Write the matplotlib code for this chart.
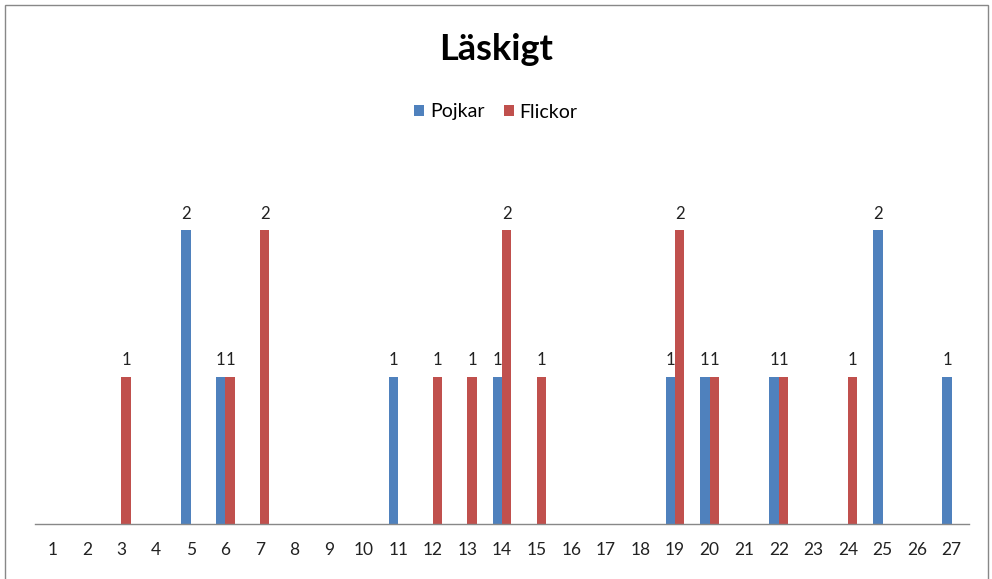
import matplotlib
matplotlib.use("Agg")
import matplotlib.pyplot as plt
import numpy as np
from matplotlib.patches import Rectangle

plt.rcParams['font.family'] = ['Lato', 'DejaVu Sans']

categories = [str(i) for i in range(1, 28)]
pojkar = [0, 0, 0, 0, 2, 1, 0, 0, 0, 0, 1, 0, 0, 1, 0, 0, 0, 0, 1, 1, 0, 1, 0, 0, 2, 0, 1]
flickor = [0, 0, 1, 0, 0, 1, 2, 0, 0, 0, 0, 1, 1, 2, 1, 0, 0, 0, 2, 1, 0, 1, 0, 1, 0, 0, 0]

blue = '#4F81BD'
red = '#C0504D'

fig = plt.figure(figsize=(9.92, 5.79), dpi=100)
ax = fig.add_axes([35/992, 1 - 524/579, (969-35)/992, (524-157)/579])

x = np.arange(len(categories))
w = 0.27
bp = ax.bar(x - w/2, pojkar, w, color=blue, label='Pojkar')
bf = ax.bar(x + w/2, flickor, w, color=red, label='Flickor')

for xi, v in zip(x, pojkar):
    if v:
        ax.text(xi - w/2, v + 0.06, str(v), ha='center', va='bottom', fontsize=12, color='#222222')
for xi, v in zip(x, flickor):
    if v:
        ax.text(xi + w/2, v + 0.06, str(v), ha='center', va='bottom', fontsize=12, color='#222222')

ax.set_xlim(-0.5, len(categories) - 0.5)
ax.set_ylim(0, 2.5)
ax.set_xticks(x)
ax.set_xticklabels(categories, fontsize=12.5, color='#222222')
ax.tick_params(axis='x', length=0, pad=13)
ax.set_yticks([])
for s in ['top', 'right', 'left']:
    ax.spines[s].set_visible(False)
ax.spines['bottom'].set_color('#888888')
ax.spines['bottom'].set_linewidth(1)

fig.text(0.5, 1 - 50/579, 'Läskigt', ha='center', va='center', fontsize=26, fontweight='bold', color='black')
fig.legend(handles=[bp, bf], labels=['Pojkar', 'Flickor'], loc='center', bbox_to_anchor=(0.5, 1 - 112/579),
           ncol=2, frameon=False, fontsize=14, handlelength=0.5, handleheight=0.5, handletextpad=0.3,
           columnspacing=1.0)

fig.patches.append(Rectangle((5/992, -0.05), (988-5)/992, 1 - 5/579 + 0.05, transform=fig.transFigure,
                             fill=False, edgecolor='#888888', linewidth=1))

fig.savefig('out.png', dpi=100, facecolor='white')
